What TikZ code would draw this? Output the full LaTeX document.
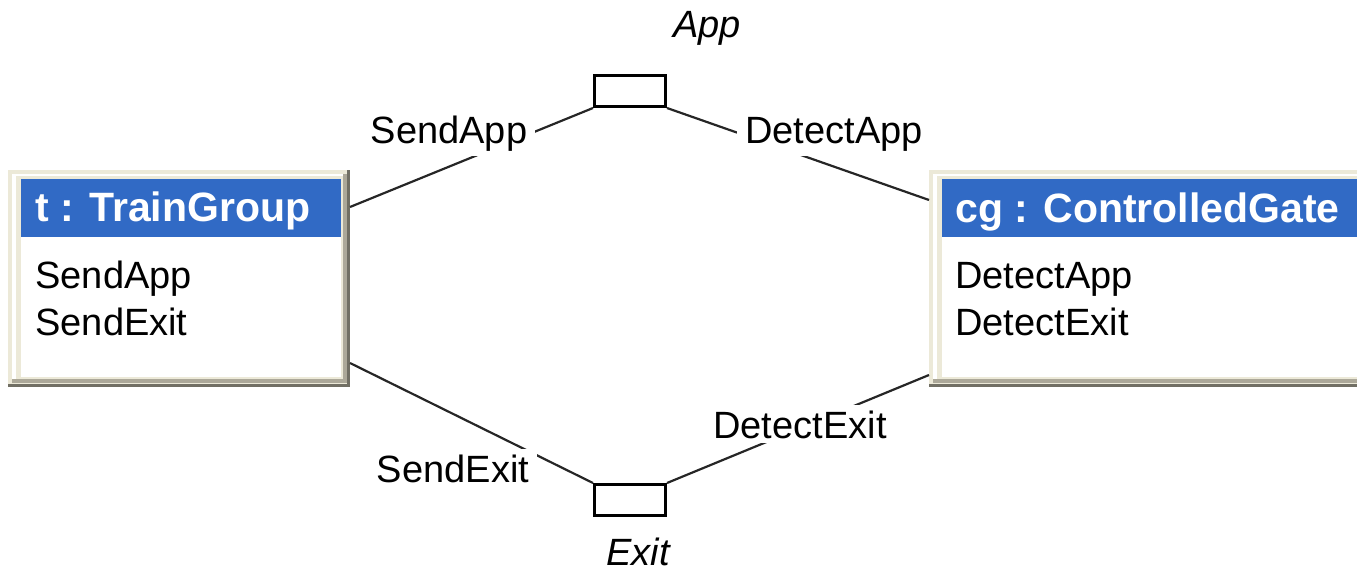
\documentclass[tikz,border=0pt]{standalone}
\usepackage{fontspec}
\setmainfont{Liberation Sans}
\definecolor{frameBeige}{HTML}{ECE9D8}
\definecolor{frameShade}{HTML}{ACA899}
\definecolor{frameDark}{HTML}{716F64}
\definecolor{headBlue}{HTML}{316AC5}

\begin{document}
\begin{tikzpicture}[x=0.5pt,y=-0.5pt,
  link/.style={draw=black!85, line width=1.1pt},
  port/.style={draw=black, line width=1.5pt, fill=white, minimum width=35.5pt, minimum height=15.5pt, inner sep=0pt},
  linklabel/.style={fill=white, inner xsep=4pt, inner ysep=2.5pt, font=\fontsize{19pt}{22pt}\selectfont, anchor=base},
  portlabel/.style={font=\fontsize{19pt}{22pt}\selectfont\itshape, anchor=base, inner sep=0pt},
  heading/.style={font=\fontsize{20.5pt}{24pt}\selectfont\bfseries, text=white, anchor=base west, inner sep=0pt},
  member/.style={font=\fontsize{19pt}{22pt}\selectfont, anchor=base west, inner sep=0pt},
  classbox/.style={fill=frameDark, anchor=north west, inner sep=0pt, outer sep=0pt, minimum height=108.5pt}
]
\useasboundingbox (0,0) rectangle (1357,568);
\clip (0,0) rectangle (1357,568);

% class t : TrainGroup, with its 3D frame
\node[classbox, minimum width=171pt] (tg) at (8,170) {};
\fill[frameBeige] (8,170) rectangle (347,384);
\fill[frameShade] (12,174) rectangle (347,383);
\fill[white] (12,174) rectangle (343,379);
\fill[frameBeige] (16,176) rectangle (343,379);
\fill[white] (21,179) rectangle (341,377);
\fill[headBlue] (21,179) rectangle (341,237);
\node[heading] (tgname) at (35,221) {t : TrainGroup};
\node[member] (tgm1) at (35,288) {SendApp};
\node[member] (tgm2) at (35,335) {SendExit};

% class cg : ControlledGate (runs past the right edge)
\node[classbox, minimum width=240pt] (cg) at (929,170) {};
\fill[frameBeige] (929,170) rectangle (1420,384);
\fill[frameShade] (933,174) rectangle (1420,383);
\fill[white] (933,174) rectangle (1420,379);
\fill[frameBeige] (937,176) rectangle (1420,379);
\fill[white] (942,179) rectangle (1420,377);
\fill[headBlue] (942,179) rectangle (1420,237);
\node[heading] (cgname) at (955,222) {cg : ControlledGate};
\node[member] (cgm1) at (955,288) {DetectApp};
\node[member] (cgm2) at (955,335) {DetectExit};

% signal ports
\node[port] (app) at (630,91) {};
\node[port] (exit) at (630,500) {};
\node[portlabel] (applabel) at (707,37) {App};
\node[portlabel] (exitlabel) at (638,565) {Exit};

% connectors
\draw[link] ([yshift=-18.5pt]tg.north east) -- (app.south west);
\draw[link] (app.south east) -- ([yshift=-15pt]cg.north west);
\draw[link] ([yshift=-96.5pt]tg.north east) -- (exit.north west);
\draw[link] (exit.north east) -- ([yshift=-102.5pt]cg.north west);

% connector labels
\node[linklabel] (l1) at (449,143) {SendApp};
\node[linklabel] (l2) at (834,143) {DetectApp};
\node[linklabel] (l3) at (453,482) {SendExit};
\node[linklabel] (l4) at (800,438) {DetectExit};
\end{tikzpicture}
\end{document}
